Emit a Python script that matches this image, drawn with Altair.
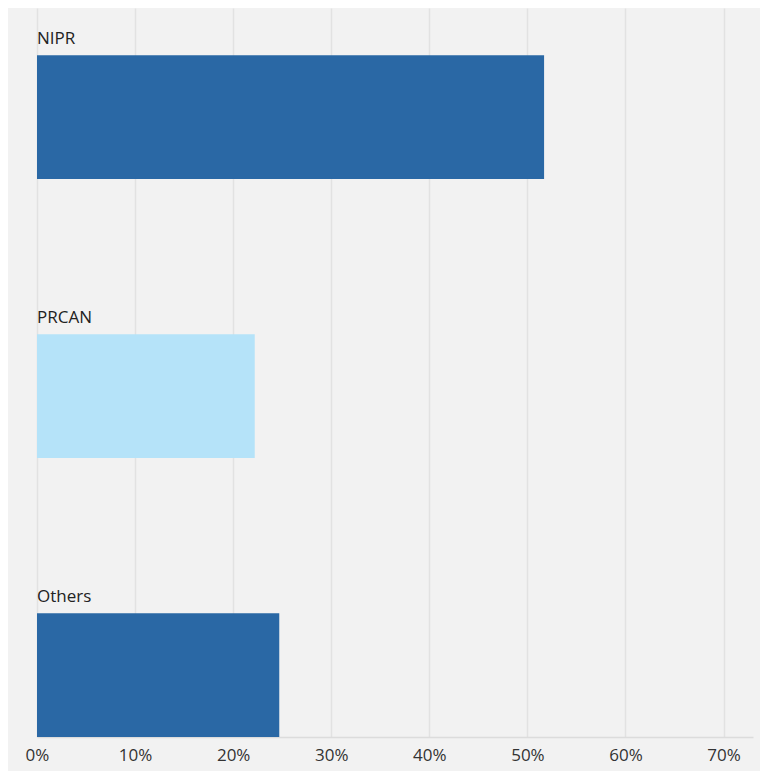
import altair as alt
import pandas as pd

categories = ["NIPR", "PRCAN", "Others"]
shares = [0.517, 0.222, 0.247]
bar_colors = ["#2a68a5", "#b5e3f9", "#2a68a5"]

df = pd.DataFrame({"party": categories, "share": shares})

x_enc = alt.X(
    "share:Q",
    scale=alt.Scale(domain=[0, 0.73], nice=False, zero=True),
    axis=alt.Axis(
        format=".0%",
        values=[0, 0.1, 0.2, 0.3, 0.4, 0.5, 0.6, 0.7],
        title=None,
        grid=True,
        gridColor="#e2e2e2",
        gridWidth=1.5,
        domain=True,
        domainColor="#dcdcdc",
        domainWidth=1.5,
        ticks=False,
        labelFontSize=17,
        labelFont="Open Sans",
        labelColor="#333333",
        labelPadding=10,
        labelFlush=False,
    ),
)

y_scale = alt.Scale(domain=categories, paddingInner=0.556, paddingOuter=0.0845, align=1)

bars = alt.Chart(df).mark_bar().encode(
    x=x_enc,
    y=alt.Y("party:N", scale=y_scale, axis=None),
    color=alt.Color(
        "party:N",
        scale=alt.Scale(domain=categories, range=bar_colors),
        legend=None,
    ),
)

labels = alt.Chart(df).mark_text(
    align="left", baseline="alphabetic", dy=-11, fontSize=17, font="Open Sans", color="#222222"
).encode(
    x=alt.value(0),
    y=alt.Y("party:N", scale=y_scale, axis=None, bandPosition=0),
    text="party:N",
)

chart = (
    alt.layer(bars, labels)
    .properties(
        width=716,
        height=729,
        background="#f2f2f2",
        padding={"left": 29, "top": 0, "right": 7, "bottom": 34},
        autosize=alt.AutoSizeParams(type="none"),
    )
    .configure_view(stroke=None, fill="#f2f2f2")
)

chart.save("out.html", embed_options={"renderer": "svg", "actions": False})
